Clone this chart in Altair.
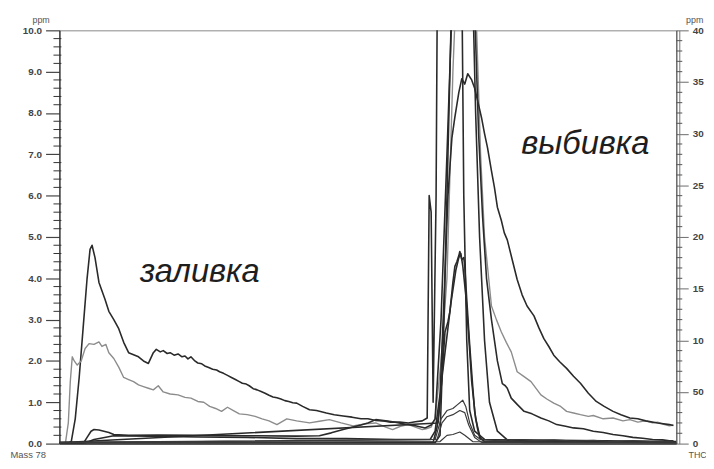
import altair as alt
import pandas as pd

# ---- data (time in s, concentration in ppm) ----
A_t = [60,68,72,76,80,84,88,91,93,96,100,103,106,110,115,120,125,130,135,140,145,150,155,158,162,165,169,172,176,180,184,187,190,193,197,200,204,207,211,215,219,222,226,230,234,238,242,245,249,252,256,260,264,268,272,276,280,284,288,292,296,300,306,313,320,330,338,347,356,365,372,380,388,395,404,413,420,427,432,434,436,438,441,443,466,469,472,475,480,490,684]
A_v = [0,0,0.05,0.6,1.6,2.8,4.0,4.7,4.8,4.5,3.9,3.7,3.5,3.2,3.0,2.78,2.45,2.2,2.15,2.1,2.0,1.94,2.2,2.28,2.22,2.25,2.18,2.2,2.14,2.17,2.1,2.12,2.05,2.1,2.0,1.95,1.93,1.88,1.84,1.8,1.78,1.74,1.7,1.65,1.6,1.55,1.5,1.46,1.44,1.4,1.33,1.3,1.26,1.22,1.17,1.13,1.11,1.08,1.04,1.02,0.99,0.98,0.9,0.82,0.8,0.74,0.7,0.67,0.64,0.6,0.6,0.56,0.55,0.52,0.52,0.5,0.53,0.55,0.62,6.0,5.6,1.0,6.0,14,14,6,2.5,0.8,0.3,0.1,0.05]

B_t = [60,66,69,71,73,75,78,82,86,90,95,100,103,107,110,115,120,125,130,135,140,145,150,155,160,165,172,180,187,193,200,206,212,218,224,230,236,242,250,258,265,272,280,290,300,313,323,333,345,357,370,380,390,397,405,413,420,427,431,436,440,446,452,458,463,475,482,486,490,497,502,507,512,517,523,530,537,547,553,560,567,573,580,587,595,600,610,620,630,637,645,653,660,665,672,677,681]
B_v = [0,0,0.5,1.5,2.1,2.0,1.9,2.0,2.3,2.42,2.4,2.46,2.35,2.4,2.2,2.06,1.85,1.6,1.55,1.5,1.42,1.38,1.34,1.3,1.4,1.25,1.2,1.18,1.12,1.1,1.02,1.0,0.9,0.85,0.78,0.88,0.8,0.72,0.7,0.66,0.6,0.55,0.46,0.6,0.55,0.5,0.54,0.58,0.5,0.43,0.48,0.5,0.4,0.34,0.42,0.46,0.4,0.34,0.36,0.4,0.6,2.0,4.0,9.0,12,14,10,7,5,3.33,3.0,2.7,2.45,2.22,1.74,1.62,1.5,1.18,1.08,0.98,0.9,0.78,0.74,0.7,0.66,0.68,0.6,0.62,0.55,0.58,0.52,0.55,0.5,0.52,0.46,0.43,0.45]

C_t = [60,84,88,92,95,100,110,115,130,160,200,250,300,323,335,347,357,365,372,380,390,397,410,420,430,436,440,446,452,457,470,480,484,488,492,497,503,508,511,513,517,523,530,538,547,555,563,572,580,590,600,610,620,630,640,650,660,670,677,681]
C_v = [0,0,0.15,0.3,0.34,0.33,0.27,0.22,0.2,0.21,0.2,0.19,0.18,0.19,0.26,0.34,0.4,0.45,0.5,0.58,0.55,0.53,0.47,0.43,0.38,0.45,0.6,3.0,7.0,10.5,13,10.5,7.5,5.5,4.0,3.0,2.0,1.45,1.4,1.34,1.1,0.95,0.78,0.72,0.62,0.55,0.46,0.42,0.38,0.36,0.3,0.27,0.22,0.19,0.15,0.13,0.1,0.09,0.07,0.07]

D_t = [60,85,95,115,150,200,250,300,350,400,435,440,445,449,453,457,460,464,467,470,473,477,480,483,487,490,493,497,500,503,507,510,513,518,523,528,533,540,545,550,555,560,566,573,580,587,595,603,611,620,628,637,645,653,665,677,681]
D_v = [0,0,0.1,0.19,0.18,0.16,0.15,0.12,0.12,0.1,0.1,0.3,1.2,3.5,6.0,7.4,7.9,8.5,8.83,8.7,8.95,8.8,8.6,8.3,7.88,7.5,7.16,6.6,6.2,5.72,5.4,5.1,4.93,4.45,3.97,3.6,3.33,3.09,2.8,2.54,2.35,2.14,1.98,1.82,1.63,1.46,1.22,1.02,0.9,0.78,0.7,0.62,0.6,0.55,0.5,0.46,0.44]

P_t = [60,440,445,449,453,457,463,470,475,478,481,485,490,495,503,515,530,684]
P_v = [0.02,0.02,0.2,3,7,11,16,20,15,11,8,5,2.5,1.0,0.3,0.05,0.03,0.03]

R_t = [60,438,442,445,448,450,453,455,458,460,462,464,465,467,469,470,472,475,478,480,483,485,490,684]
R_v = [0.03,0.03,0.4,1.0,2.0,2.7,2.95,3.2,3.9,4.29,4.4,4.55,4.65,4.45,4.5,4.29,3.5,2.38,1.4,0.78,0.35,0.15,0.05,0.03]

Rb_t = [60,443,447,452,456,461,464,466,468,471,474,477,481,486,684]
Rb_v = [0.02,0.5,1.6,2.6,3.4,4.2,4.5,4.6,4.3,3.6,2.6,1.5,0.6,0.1,0.02]

S1_t = [60,440,446,452,458,463,468,471,475,480,486,500,520,540,560,580,600,620,640,660,681]
S1_v = [0.03,0.1,0.6,0.8,0.85,0.95,1.05,0.9,0.5,0.2,0.1,0.08,0.1,0.07,0.09,0.06,0.08,0.05,0.07,0.05,0.06]

S2_t = [60,442,447,452,458,465,470,474,480,487,684]
S2_v = [0.02,0.1,0.5,0.65,0.7,0.8,0.75,0.45,0.15,0.03,0.02]

S3_t = [60,445,452,458,465,470,478,684]
S3_v = [0.01,0.05,0.2,0.22,0.28,0.2,0.05,0.01]

series = [
    ("A", "dark", A_t, A_v),
    ("B", "grey", B_t, B_v),
    ("C", "dark", C_t, C_v),
    ("D", "dark", D_t, D_v),
    ("P", "dark", P_t, P_v),
    ("R", "dark", R_t, R_v),
    ("Rb", "dark", Rb_t, Rb_v),
    ("S1", "mid", S1_t, S1_v),
    ("S2", "mid", S2_t, S2_v),
    ("S3", "mid", S3_t, S3_v),
]

ann_t = [202, 592]
ann_v = [3.9, 7.0]
ann_text = ["заливка", "выбивка"]

# axis ticks: left 0..10 ppm (minor every 0.2), right THC 0..40 in steps of 5 (minor every 1)
left_major = [0, 1, 2, 3, 4, 5, 6, 7, 8, 9, 10]
left_minor = [round(i * 0.2, 2) for i in range(51) if i % 5]
right_major = [round(i * 1.25, 2) for i in range(9)]
right_minor = [round(i * 0.25, 2) for i in range(41) if i % 5]

rows = []
for name, kind, ts, vs in series:
    for t, v in zip(ts, vs):
        rows.append({"series": name, "kind": kind, "t": t, "ppm": v})
df = pd.DataFrame(rows)
ann = pd.DataFrame({"t": ann_t, "ppm": ann_v, "label": ann_text})
lmin = pd.DataFrame({"ppm": left_minor})
rmin = pd.DataFrame({"ppm": right_minor})

FONT = "Liberation Sans"
xs = alt.Scale(domain=[60, 684], nice=False, zero=False)
ys = alt.Scale(domain=[0, 10], nice=False)

lines = alt.Chart(df).mark_line(clip=True, strokeJoin="round").encode(
    x=alt.X("t:Q", scale=xs, axis=alt.Axis(orient="bottom", ticks=False, labels=False, title=None,
                                            grid=False, domainColor="#222", domainWidth=1.5)),
    y=alt.Y("ppm:Q", scale=ys, axis=alt.Axis(
        orient="left", values=left_major, format=".1f", tickSize=14, tickColor="#444",
        tickWidth=1.2, labelPadding=4, labelFont=FONT, labelFontSize=10, labelFontWeight="bold",
        labelColor="#444", domainColor="#333", domainWidth=1.5, grid=False,
        title="ppm", titleAngle=0, titleX=-19, titleY=-8, titleAlign="center",
        titleBaseline="alphabetic", titleFont=FONT, titleFontSize=9,
        titleFontWeight="normal", titleColor="#555")),
    detail="series:N",
    color=alt.Color("kind:N", scale=alt.Scale(domain=["dark", "grey", "mid"],
                                              range=["#2a2a2a", "#8c8c8c", "#3a3a3a"]), legend=None),
    strokeWidth=alt.StrokeWidth("kind:N", scale=alt.Scale(domain=["dark", "grey", "mid"],
                                                          range=[1.6, 1.2, 1.3]), legend=None),
)

left_title_layer = alt.Chart(df).mark_point(opacity=0).encode(
    x=alt.X("t:Q", scale=xs, axis=alt.Axis(orient="top", ticks=False, labels=False, title=None,
                                            grid=False, domainColor="#888", domainWidth=1)),
    y=alt.Y("ppm:Q", scale=ys, axis=alt.Axis(
        orient="left", labels=False, ticks=False, domain=False, grid=False,
        title="Mass 78", titleAngle=0, titleX=-50, titleY=432,
        titleAlign="left", titleBaseline="alphabetic", titleFont=FONT, titleFontSize=9.5,
        titleFontWeight="normal", titleColor="#555")),
)

right_layer = alt.Chart(df).mark_point(opacity=0).encode(
    x=alt.X("t:Q", scale=xs, axis=alt.Axis(orient="bottom", ticks=False, labels=False, title=None,
                                            grid=False, domain=False)),
    y=alt.Y("ppm:Q", scale=ys, axis=alt.Axis(
        orient="right", values=right_major,
        labelExpr="datum.value == 1.25 ? '50' : format(datum.value * 4, 'd')",
        tickSize=12, tickColor="#777", tickWidth=1.1,
        labelPadding=4, labelFont=FONT, labelFontSize=10, labelFontWeight="bold",
        labelColor="#444", domainColor="#444", domainWidth=1.2, grid=False,
        title="ppm", titleAngle=0, titleX=18, titleY=-8, titleAlign="center",
        titleBaseline="alphabetic", titleFont=FONT, titleFontSize=9,
        titleFontWeight="normal", titleColor="#555")),
)

right_title_layer = alt.Chart(df).mark_point(opacity=0).encode(
    x=alt.X("t:Q", scale=xs, axis=alt.Axis(orient="top", ticks=False, labels=False, title=None,
                                            grid=False, domain=False)),
    y=alt.Y("ppm:Q", scale=ys, axis=alt.Axis(
        orient="right", labels=False, ticks=False,
        domain=True, domainColor="#777", domainWidth=1, offset=3, grid=False,
        title="THC", titleAngle=0, titleX=18, titleY=432, titleAlign="center",
        titleBaseline="alphabetic", titleFont=FONT, titleFontSize=9,
        titleFontWeight="normal", titleColor="#555")),
)

# minor tick marks along both vertical axes
left_minor_rules = alt.Chart(lmin).mark_rule(color="#333", strokeWidth=1).encode(
    y=alt.Y("ppm:Q", scale=ys, axis=None),
    x=alt.value(-6), x2=alt.value(2),
)
right_minor_rules = alt.Chart(rmin).mark_rule(color="#555", strokeWidth=1).encode(
    y=alt.Y("ppm:Q", scale=ys, axis=None),
    x=alt.value(624), x2=alt.value(630),
)

text = alt.Chart(ann).mark_text(font=FONT, fontSize=33, fontStyle="italic", color="#1e1e1e",
                                align="center", baseline="alphabetic").encode(
    x=alt.X("t:Q", scale=xs, axis=None),
    y=alt.Y("ppm:Q", scale=ys, axis=None),
    text="label:N",
)

chart = alt.layer(lines, left_title_layer, right_layer, right_title_layer,
                  left_minor_rules, right_minor_rules, text).resolve_axis(
    x="independent", y="independent"
).properties(
    width=624, height=418, autosize="none",
    padding={"left": 52, "top": 20, "right": 30, "bottom": 15},
    background="white",
).configure_view(stroke=None)

chart.save("out.html", embed_options={"renderer": "svg", "actions": False})
